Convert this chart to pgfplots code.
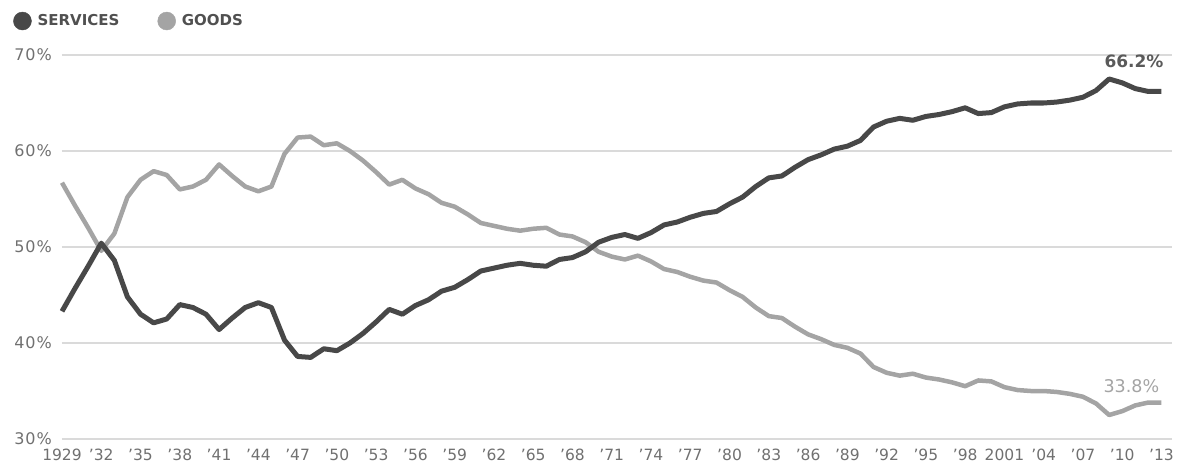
\documentclass[border=0pt]{standalone}
\usepackage{fontspec}
\setmainfont{DejaVu Sans}
\usepackage{pgfplots}
\usepackage{pgfplotstable}
\pgfplotsset{compat=1.18}
\definecolor{servc}{HTML}{484848}
\definecolor{goodc}{HTML}{A4A4A4}
\definecolor{gridc}{HTML}{DADADA}
\definecolor{tickc}{HTML}{707070}
\definecolor{legc}{HTML}{505050}

\pgfplotstableread{
year services goods
1929 43.3 56.7
1930 45.7 54.3
1931 48.0 52.0
1932 50.4 49.6
1933 48.6 51.4
1934 44.8 55.2
1935 43.0 57.0
1936 42.1 57.9
1937 42.5 57.5
1938 44.0 56.0
1939 43.7 56.3
1940 43.0 57.0
1941 41.4 58.6
1942 42.6 57.4
1943 43.7 56.3
1944 44.2 55.8
1945 43.7 56.3
1946 40.3 59.7
1947 38.6 61.4
1948 38.5 61.5
1949 39.4 60.6
1950 39.2 60.8
1951 40.0 60.0
1952 41.0 59.0
1953 42.2 57.8
1954 43.5 56.5
1955 43.0 57.0
1956 43.9 56.1
1957 44.5 55.5
1958 45.4 54.6
1959 45.8 54.2
1960 46.6 53.4
1961 47.5 52.5
1962 47.8 52.2
1963 48.1 51.9
1964 48.3 51.7
1965 48.1 51.9
1966 48.0 52.0
1967 48.7 51.3
1968 48.9 51.1
1969 49.5 50.5
1970 50.5 49.5
1971 51.0 49.0
1972 51.3 48.7
1973 50.9 49.1
1974 51.5 48.5
1975 52.3 47.7
1976 52.6 47.4
1977 53.1 46.9
1978 53.5 46.5
1979 53.7 46.3
1980 54.5 45.5
1981 55.2 44.8
1982 56.3 43.7
1983 57.2 42.8
1984 57.4 42.6
1985 58.3 41.7
1986 59.1 40.9
1987 59.6 40.4
1988 60.2 39.8
1989 60.5 39.5
1990 61.1 38.9
1991 62.5 37.5
1992 63.1 36.9
1993 63.4 36.6
1994 63.2 36.8
1995 63.6 36.4
1996 63.8 36.2
1997 64.1 35.9
1998 64.5 35.5
1999 63.9 36.1
2000 64.0 36.0
2001 64.6 35.4
2002 64.9 35.1
2003 65.0 35.0
2004 65.0 35.0
2005 65.1 34.9
2006 65.3 34.7
2007 65.6 34.4
2008 66.3 33.7
2009 67.5 32.5
2010 67.1 32.9
2011 66.5 33.5
2012 66.2 33.8
2013 66.2 33.8
}\datatable

\begin{document}
\begin{tikzpicture}
\useasboundingbox (0,0) rectangle (1177pt,469pt);
\begin{axis}[
  at={(62pt,30pt)}, anchor=south west,
  scale only axis, width=1110pt, height=384pt,
  xmin=1929, xmax=2013.8, ymin=30, ymax=70,
  axis line style={draw=none},
  major tick length=0pt,
  ytick={30,40,50,60,70},
  yticklabels={30\%,40\%,50\%,60\%,70\%},
  xtick={1929,1932,...,2013},
  xticklabels={1929,’32,’35,’38,’41,’44,’47,’50,’53,’56,’59,’62,’65,’68,’71,’74,’77,’80,’83,’86,’89,’92,’95,’98,2001,’04,’07,’10,’13},
  ymajorgrids, grid style={gridc, line width=1.6pt},
  tick label style={font=\fontsize{15.5}{15.5}\selectfont, text=tickc, inner sep=0pt},
  yticklabel style={anchor=east, xshift=-10pt, font=\addfontfeatures{LetterSpace=6}\fontsize{16}{16}\selectfont},
  xticklabel style={anchor=north, yshift=-10pt},
  clip=false,
  legend columns=2,
  legend style={at={(-0.0441,1.0885)}, anchor=west, draw=none, fill=none, inner sep=0pt,
    font=\bfseries\fontsize{15}{15}\selectfont, text=legc,
    nodes={inner sep=0pt},
    /tikz/every odd column/.append style={column sep=6pt},
    /tikz/every even column/.append style={column sep=38pt}},
  legend image code/.code={\fill[#1] (9pt,0pt) circle (9pt);},
]
\addlegendimage{servc, fill=servc}
\addlegendentry{SERVICES}
\addlegendimage{goodc, fill=goodc}
\addlegendentry{GOODS}
\addplot[goodc, line width=4.5pt, line join=round, forget plot] table[x=year, y=goods] {\datatable};
\addplot[servc, line width=5pt, line join=round, forget plot] table[x=year, y=services] {\datatable};
\node[font=\bfseries\fontsize{17}{17}\selectfont, text=servc!90] at (axis cs:2010.9,69.3) {66.2\%};
\node[font=\fontsize{17.5}{17.5}\selectfont, text=goodc] at (axis cs:2010.7,35.5) {33.8\%};
\end{axis}
\end{tikzpicture}
\end{document}
